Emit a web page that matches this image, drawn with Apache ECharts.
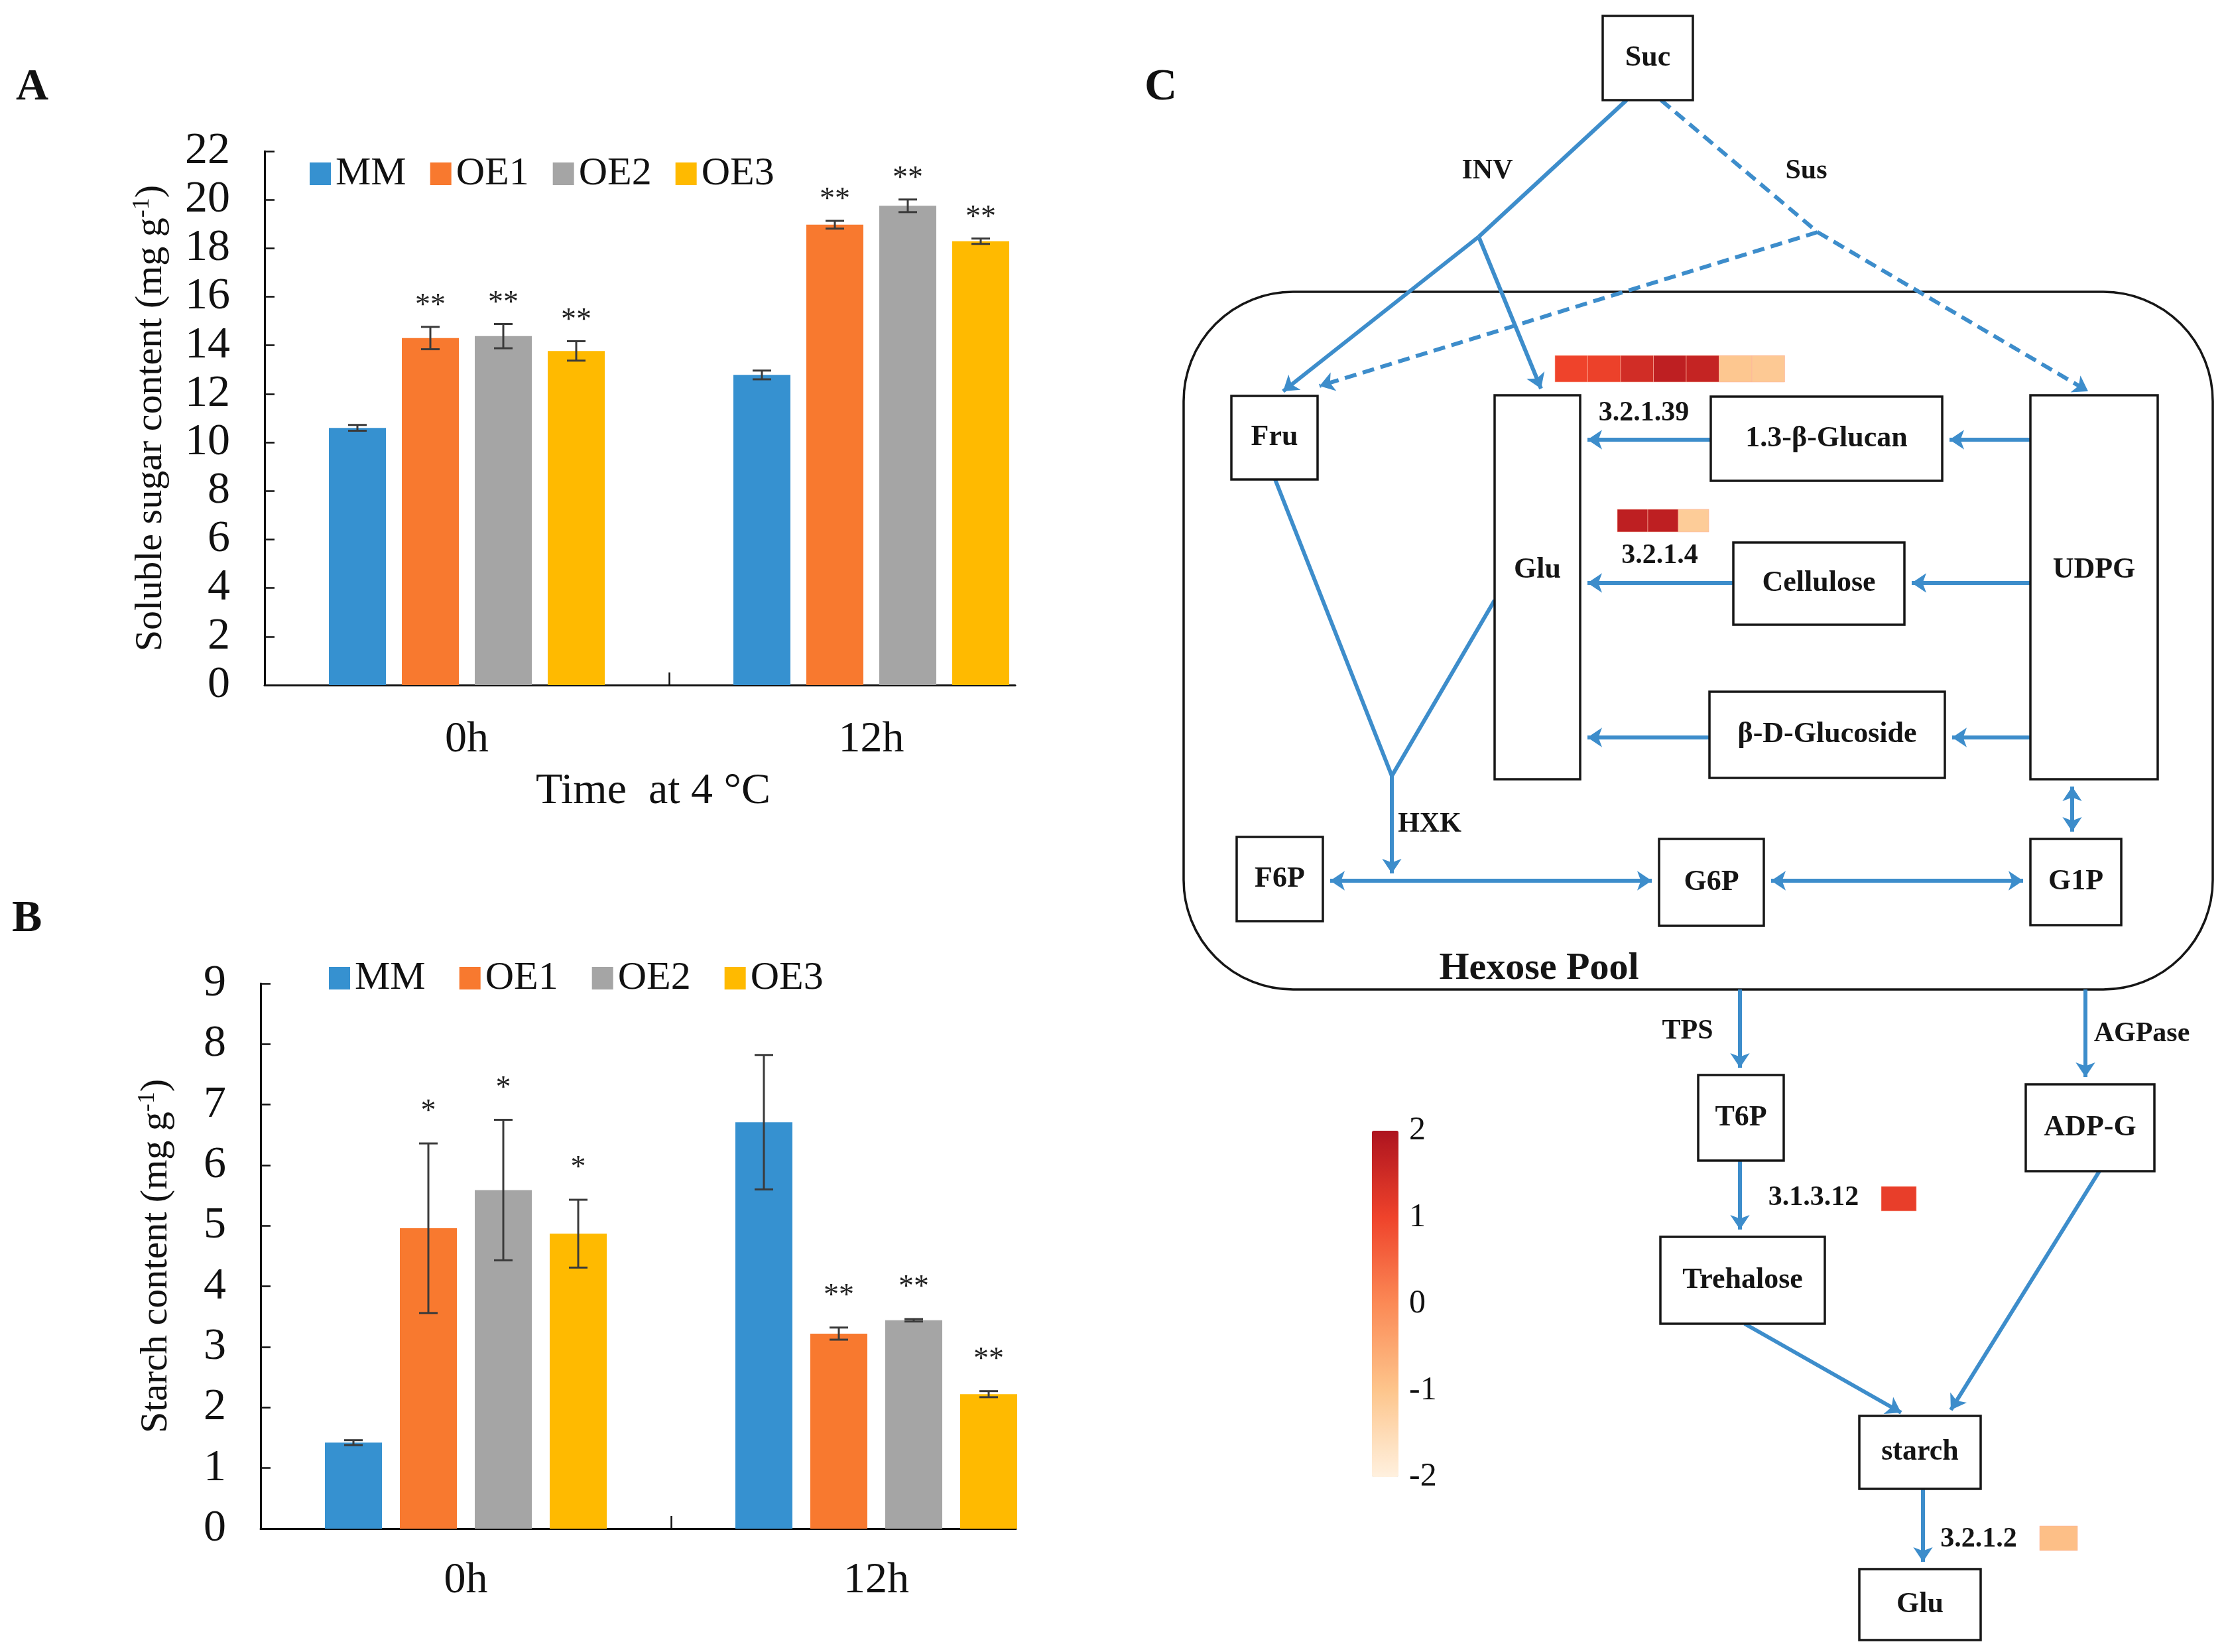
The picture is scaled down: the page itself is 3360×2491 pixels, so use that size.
<!DOCTYPE html>
<html><head><meta charset="utf-8">
<script src="https://cdn.jsdelivr.net/npm/echarts@6/dist/echarts.min.js"></script>
<style>html,body{margin:0;padding:0;background:#fff}#c{width:3360px;height:2491px}</style>
</head><body><div id="c"></div>
<script>
// ---------- DATA ----------
const categories = ['0h', '12h'];
const genotypes = ['MM', 'OE1', 'OE2', 'OE3'];
const genoColors = ['#3691d0', '#f8792f', '#a5a5a5', '#ffba00'];

// Panel A: soluble sugar (mg g-1)
const sugarMM  = [10.6, 12.78];
const sugarOE1 = [14.3, 18.97];
const sugarOE2 = [14.38, 19.75];
const sugarOE3 = [13.77, 18.29];
const sugarErrMM  = [0.12, 0.18];
const sugarErrOE1 = [0.46, 0.16];
const sugarErrOE2 = [0.5, 0.26];
const sugarErrOE3 = [0.4, 0.11];
const sugarSigMM  = ['', ''];
const sugarSigOE1 = ['**', '**'];
const sugarSigOE2 = ['**', '**'];
const sugarSigOE3 = ['**', '**'];

// Panel B: starch (mg g-1)
const starchMM  = [1.42, 6.71];
const starchOE1 = [4.96, 3.22];
const starchOE2 = [5.59, 3.44];
const starchOE3 = [4.87, 2.22];
const starchErrMM  = [0.04, 1.11];
const starchErrOE1 = [1.4, 0.1];
const starchErrOE2 = [1.16, 0.02];
const starchErrOE3 = [0.56, 0.05];
const starchSigMM  = ['', ''];
const starchSigOE1 = ['*', '**'];
const starchSigOE2 = ['*', '**'];
const starchSigOE3 = ['*', '**'];

// Panel C: pathway diagram (diagram units)
const nodeNames = ['Suc', 'Fru', 'Glu', '1.3-\u03b2-Glucan', 'Cellulose', '\u03b2-D-Glucoside', 'UDPG',
  'F6P', 'G6P', 'G1P', 'T6P', 'ADP-G', 'Trehalose', 'starch', 'Glu'];
const nodeBoxes = [
  [717, 24, 853, 151], [157, 597, 287, 723], [554, 596, 683, 1175], [880, 598, 1229, 725],
  [914, 818, 1172, 942], [878, 1043, 1233, 1173], [1362, 596, 1554, 1175],
  [165, 1262, 295, 1389], [802, 1265, 960, 1396], [1362, 1265, 1499, 1395],
  [861, 1621, 990, 1750], [1355, 1635, 1549, 1766], [804, 1865, 1052, 1996],
  [1104, 2135, 1287, 2245], [1104, 2366, 1287, 2473]
];
const nodeLabelShift = [0, 0, -26, 0, 0, 0, -26, 0, 0, 0, 0, 0, 0, 0, 0];
const poolBox = [85, 440, 1637, 1492];
// solid segments ending with an arrow head
const arrowPaths = [
  [[530, 357], [235, 590]],
  [[530, 357], [624, 586]],
  [[880, 663], [694, 663]],
  [[1362, 663], [1240, 663]],
  [[914, 879], [694, 879]],
  [[1362, 879], [1183, 879]],
  [[878, 1112], [694, 1112]],
  [[1362, 1112], [1244, 1112]],
  [[399, 1170], [399, 1317]],
  [[924, 1492], [924, 1610]],
  [[1445, 1492], [1445, 1624]],
  [[924, 1750], [924, 1854]],
  [[931, 1996], [1167, 2130]],
  [[1466, 1766], [1242, 2126]],
  [[1200, 2245], [1200, 2355]]
];
// solid segments without heads
const plainPaths = [
  [[753, 151], [530, 357]],
  [[223, 723], [399, 1170]],
  [[554, 905], [399, 1170]]
];
// dashed (Sus) segments
const dashedArrowPaths = [
  [[1041, 350], [1449, 590]],
  [[1041, 350], [290, 582]]
];
const dashedPlainPaths = [
  [[805, 151], [1041, 350]]
];
// reversible reactions
const doublePaths = [
  [[306, 1328], [791, 1328]],
  [[971, 1328], [1351, 1328]],
  [[1425, 1186], [1425, 1254]]
];
const labelTexts = ['INV', 'Sus', '3.2.1.39', '3.2.1.4', 'HXK', 'TPS', 'AGPase', '3.1.3.12', '3.2.1.2'];
const labelPos = [[543, 258], [1024, 258], [779, 623], [803, 838], [456, 1243], [845, 1555], [1530, 1559], [1035, 1806], [1284, 2321]];
const poolTitle = 'Hexose Pool';
const poolTitlePos = [621, 1461];

// heat strips: log2 fold-change values
const heat_3_2_1_39 = [1.0, 1.05, 1.45, 1.75, 1.65, -1.05, -1.1];
const heat_3_2_1_4  = [1.75, 1.75, -1.15];
const heat_3_1_3_12 = [1.1];
const heat_3_2_1_2  = [-0.9];
const heatStrips = [
  {vals: heat_3_2_1_39, x: 645, y: 536, w: 49.5, h: 40},
  {vals: heat_3_2_1_4, x: 739, y: 768, w: 46, h: 34},
  {vals: heat_3_1_3_12, x: 1137, y: 1789, w: 53, h: 37},
  {vals: heat_3_2_1_2, x: 1376, y: 2301, w: 57, h: 37}
];
const colorScale = ['#fff1df', '#fdc58c', '#fb8a56', '#ef432b', '#ad131f'];
const colorTicks = [-2, -1, 0, 1, 2];

// ---------- BUILD ----------
const SERIF = '"Liberation Serif", "Times New Roman", serif';
const sugarMeans = [sugarMM, sugarOE1, sugarOE2, sugarOE3];
const sugarErrs = [sugarErrMM, sugarErrOE1, sugarErrOE2, sugarErrOE3];
const sugarSigs = [sugarSigMM, sugarSigOE1, sugarSigOE2, sugarSigOE3];
const starchMeans = [starchMM, starchOE1, starchOE2, starchOE3];
const starchErrs = [starchErrMM, starchErrOE1, starchErrOE2, starchErrOE3];
const starchSigs = [starchSigMM, starchSigOE1, starchSigOE2, starchSigOE3];

const chart = echarts.init(document.getElementById('c'), null, {renderer: 'canvas'});

const pnl = {
  A: {barW: 86, gap: 24, starGap: 8},
  B: {barW: 86, gap: 27, starGap: 24}
};

function barSeries(means, xi, p) {
  return genotypes.map((g, gi) => ({
    type: 'bar', name: g, xAxisIndex: xi, yAxisIndex: xi,
    data: means[gi].map((v, ci) => [ci + 0.5, v]),
    barWidth: p.barW, barGap: (p.gap / p.barW * 100) + '%',
    itemStyle: {color: genoColors[gi]}, silent: true, z: 2
  }));
}
function errSeries(means, errs, sigs, xi, p) {
  const data = [], stars = [];
  genotypes.forEach((g, gi) => categories.forEach((c, ci) => {
    data.push([ci + 0.5, means[gi][ci], errs[gi][ci], gi]);
    stars.push(sigs[gi][ci]);
  }));
  return {
    type: 'custom', name: 'err' + xi, xAxisIndex: xi, yAxisIndex: xi, silent: true, z: 5,
    data: data,
    renderItem: function (params, api) {
      const x = api.value(0), m = api.value(1), e = api.value(2), s = api.value(3);
      const off = (s - 1.5) * (p.barW + p.gap);
      const top = api.coord([x, m + e]), bot = api.coord([x, m - e]);
      const cx = top[0] + off, cw = 14;
      const st = {stroke: '#3a3a3a', lineWidth: 3};
      return {type: 'group', children: [
        {type: 'line', shape: {x1: cx, y1: top[1], x2: cx, y2: bot[1]}, style: st},
        {type: 'line', shape: {x1: cx - cw, y1: top[1], x2: cx + cw, y2: top[1]}, style: st},
        {type: 'line', shape: {x1: cx - cw, y1: bot[1], x2: cx + cw, y2: bot[1]}, style: st},
        {type: 'text', style: {text: stars[params.dataIndex], x: cx, y: top[1] - p.starGap,
          align: 'center', verticalAlign: 'bottom', font: '46px ' + SERIF, fill: '#222'}}
      ]};
    }
  };
}

function valueX(gi, maxV) {
  return {
    type: 'value', gridIndex: gi, min: 0, max: maxV,
    axisLine: {show: true, lineStyle: {color: '#111', width: 3}},
    axisTick: {show: true, inside: true, length: 19, lineStyle: {color: '#111', width: 2.5}, customValues: [1]},
    axisLabel: {show: true, customValues: [0.5, 1.5], formatter: v => categories[Math.round(v - 0.5)],
      fontFamily: SERIF, fontSize: 66, color: '#111', margin: gi === 0 ? 50 : 46},
    splitLine: {show: false}
  };
}
function valueY(gi, maxV, interval, name, nameGap) {
  return {
    type: 'value', gridIndex: gi, min: 0, max: maxV, interval: interval,
    name: name, nameLocation: 'middle', nameGap: nameGap,
    nameTextStyle: {fontFamily: SERIF, fontSize: 58, color: '#111',
      rich: {sup: {fontFamily: SERIF, fontSize: 36, color: '#111', verticalAlign: 'top', padding: [0, 0, 26, 0]}}},
    axisLine: {show: true, lineStyle: {color: '#111', width: 3}},
    axisTick: {show: true, inside: true, length: 15, lineStyle: {color: '#111', width: 2.5}},
    axisLabel: {fontFamily: SERIF, fontSize: 68, color: '#111', margin: 52},
    splitLine: {show: false}
  };
}

// diagram series
function boxSeries() {
  return {
    type: 'custom', xAxisIndex: 2, yAxisIndex: 2, silent: true, z: 6, clip: false,
    data: nodeBoxes,
    renderItem: function (params, api) {
      const p1 = api.coord([api.value(0), api.value(1)]);
      const p2 = api.coord([api.value(2), api.value(3)]);
      const i = params.dataIndex;
      return {type: 'group', children: [
        {type: 'rect', shape: {x: p1[0], y: p1[1], width: p2[0] - p1[0], height: p2[1] - p1[1]},
          style: {fill: '#fff', stroke: '#161616', lineWidth: 3.5}},
        {type: 'text', style: {text: nodeNames[i], x: (p1[0] + p2[0]) / 2, y: (p1[1] + p2[1]) / 2 + nodeLabelShift[i],
          align: 'center', verticalAlign: 'middle', font: 'bold 44px ' + SERIF, fill: '#151515'}}
      ]};
    }
  };
}
function poolSeries() {
  return {
    type: 'custom', xAxisIndex: 2, yAxisIndex: 2, silent: true, z: 1, clip: false,
    data: [poolBox.concat([0])],
    renderItem: function (params, api) {
      const p1 = api.coord([api.value(0), api.value(1)]);
      const p2 = api.coord([api.value(2), api.value(3)]);
      const t = api.coord(poolTitlePos);
      return {type: 'group', children: [
        {type: 'rect', shape: {x: p1[0], y: p1[1], width: p2[0] - p1[0], height: p2[1] - p1[1], r: 165},
          style: {fill: 'none', stroke: '#161616', lineWidth: 3.5}},
        {type: 'text', style: {text: poolTitle, x: t[0], y: t[1], align: 'center', verticalAlign: 'middle',
          font: 'bold 58px ' + SERIF, fill: '#151515'}}
      ]};
    }
  };
}
function labelSeries() {
  return {
    type: 'custom', xAxisIndex: 2, yAxisIndex: 2, silent: true, z: 7, clip: false,
    data: labelPos,
    renderItem: function (params, api) {
      const p = api.coord([api.value(0), api.value(1)]);
      return {type: 'text', style: {text: labelTexts[params.dataIndex], x: p[0], y: p[1],
        align: 'center', verticalAlign: 'middle', font: 'bold 42px ' + SERIF, fill: '#151515'}};
    }
  };
}
function heatSeries() {
  const data = [];
  heatStrips.forEach(s => s.vals.forEach((v, i) => {
    data.push([s.x + i * s.w, s.y, s.x + (i + 1) * s.w, s.y + s.h, v]);
  }));
  return {
    type: 'custom', xAxisIndex: 2, yAxisIndex: 2, silent: true, z: 7, clip: false,
    dimensions: ['x1', 'y1', 'x2', 'y2', 'fc'],
    data: data,
    renderItem: function (params, api) {
      const p1 = api.coord([api.value(0), api.value(1)]);
      const p2 = api.coord([api.value(2), api.value(3)]);
      return {type: 'rect', shape: {x: p1[0], y: p1[1], width: p2[0] - p1[0], height: p2[1] - p1[1]},
        style: {fill: api.visual('color'), stroke: 'rgba(255,180,160,0.6)', lineWidth: 1}};
    }
  };
}
const lineColor = '#3d8dcb';
function linesSeries(paths, symbols, dashed) {
  return {
    type: 'lines', coordinateSystem: 'cartesian2d', xAxisIndex: 2, yAxisIndex: 2,
    polyline: false, silent: true, z: 4,
    symbol: symbols, symbolSize: 22,
    lineStyle: {color: lineColor, width: 6, opacity: 1, type: dashed ? [18, 10] : 'solid'},
    data: paths.map(p => ({coords: p}))
  };
}

const series = []
  .concat(barSeries(sugarMeans, 0, pnl.A))
  .concat([errSeries(sugarMeans, sugarErrs, sugarSigs, 0, pnl.A)])
  .concat(barSeries(starchMeans, 1, pnl.B))
  .concat([errSeries(starchMeans, starchErrs, starchSigs, 1, pnl.B)]);
series.push(poolSeries());
series.push(linesSeries(arrowPaths, ['none', 'arrow'], false));
series.push(linesSeries(plainPaths, ['none', 'none'], false));
series.push(linesSeries(dashedArrowPaths, ['none', 'arrow'], true));
series.push(linesSeries(dashedPlainPaths, ['none', 'none'], true));
series.push(linesSeries(doublePaths, ['arrow', 'arrow'], false));
series.push(boxSeries());
series.push(labelSeries());
const heatIdx = series.length;
series.push(heatSeries());

const legendCommon = {
  data: genotypes, icon: 'rect', itemWidth: 32, itemHeight: 34, selectedMode: false, padding: 0,
  textStyle: {fontFamily: SERIF, fontSize: 60, color: '#111', padding: [0, 0, 0, 2]}
};

const option = {
  backgroundColor: '#fff',
  animation: false,
  title: [
    {text: 'A', left: 24, top: 98, padding: 0, textStyle: {fontFamily: SERIF, fontSize: 68, fontWeight: 'bold', color: '#111'}},
    {text: 'B', left: 18, top: 1352, padding: 0, textStyle: {fontFamily: SERIF, fontSize: 68, fontWeight: 'bold', color: '#111'}},
    {text: 'C', left: 1726, top: 98, padding: 0, textStyle: {fontFamily: SERIF, fontSize: 68, fontWeight: 'bold', color: '#111'}}
  ],
  legend: [
    Object.assign({left: 467, top: 232, itemGap: 36}, legendCommon),
    Object.assign({left: 496, top: 1445, itemGap: 51}, legendCommon)
  ],
  grid: [
    {left: 399, top: 228, width: 1132, height: 805, outerBoundsMode: 'none'},
    {left: 393, top: 1483, width: 1139, height: 822, outerBoundsMode: 'none'},
    {left: 1700, top: 0, width: 1660, height: 2491, outerBoundsMode: 'none'},
    {left: 2069, top: 1705, width: 40, height: 522, outerBoundsMode: 'none'}
  ],
  xAxis: [
    Object.assign(valueX(0, 1132 / 610), {name: 'Time  at 4 \u00b0C', nameLocation: 'middle', nameGap: 128,
      nameTextStyle: {fontFamily: SERIF, fontSize: 66, color: '#111', padding: [0, 0, 0, 40]}}),
    valueX(1, 1139 / 619),
    {type: 'value', gridIndex: 2, min: 0, max: 1660, show: false},
    {type: 'value', gridIndex: 3, min: 0, max: 1, show: false}
  ],
  yAxis: [
    valueY(0, 22, 2, 'Soluble sugar content (mg g{sup|-1})', 140),
    valueY(1, 9, 1, 'Starch content (mg g{sup|-1})', 126),
    {type: 'value', gridIndex: 2, min: 0, max: 2491, inverse: true, show: false},
    {type: 'value', gridIndex: 3, min: colorTicks[0], max: colorTicks[colorTicks.length - 1], interval: 1,
      position: 'right', axisLine: {show: false}, axisTick: {show: false}, splitLine: {show: false},
      axisLabel: {fontFamily: SERIF, fontSize: 50, color: '#111', margin: 16}}
  ],
  visualMap: [{
    type: 'continuous', min: colorTicks[0], max: colorTicks[colorTicks.length - 1],
    dimension: 4, seriesIndex: heatIdx, calculable: false, realtime: false,
    inRange: {color: colorScale}, orient: 'vertical',
    left: 2069, top: 1705, itemWidth: 40, itemHeight: 522, padding: 0, text: ['', ''], textGap: 0
  }],
  series: series
};
chart.setOption(option);
</script>
</body></html>
